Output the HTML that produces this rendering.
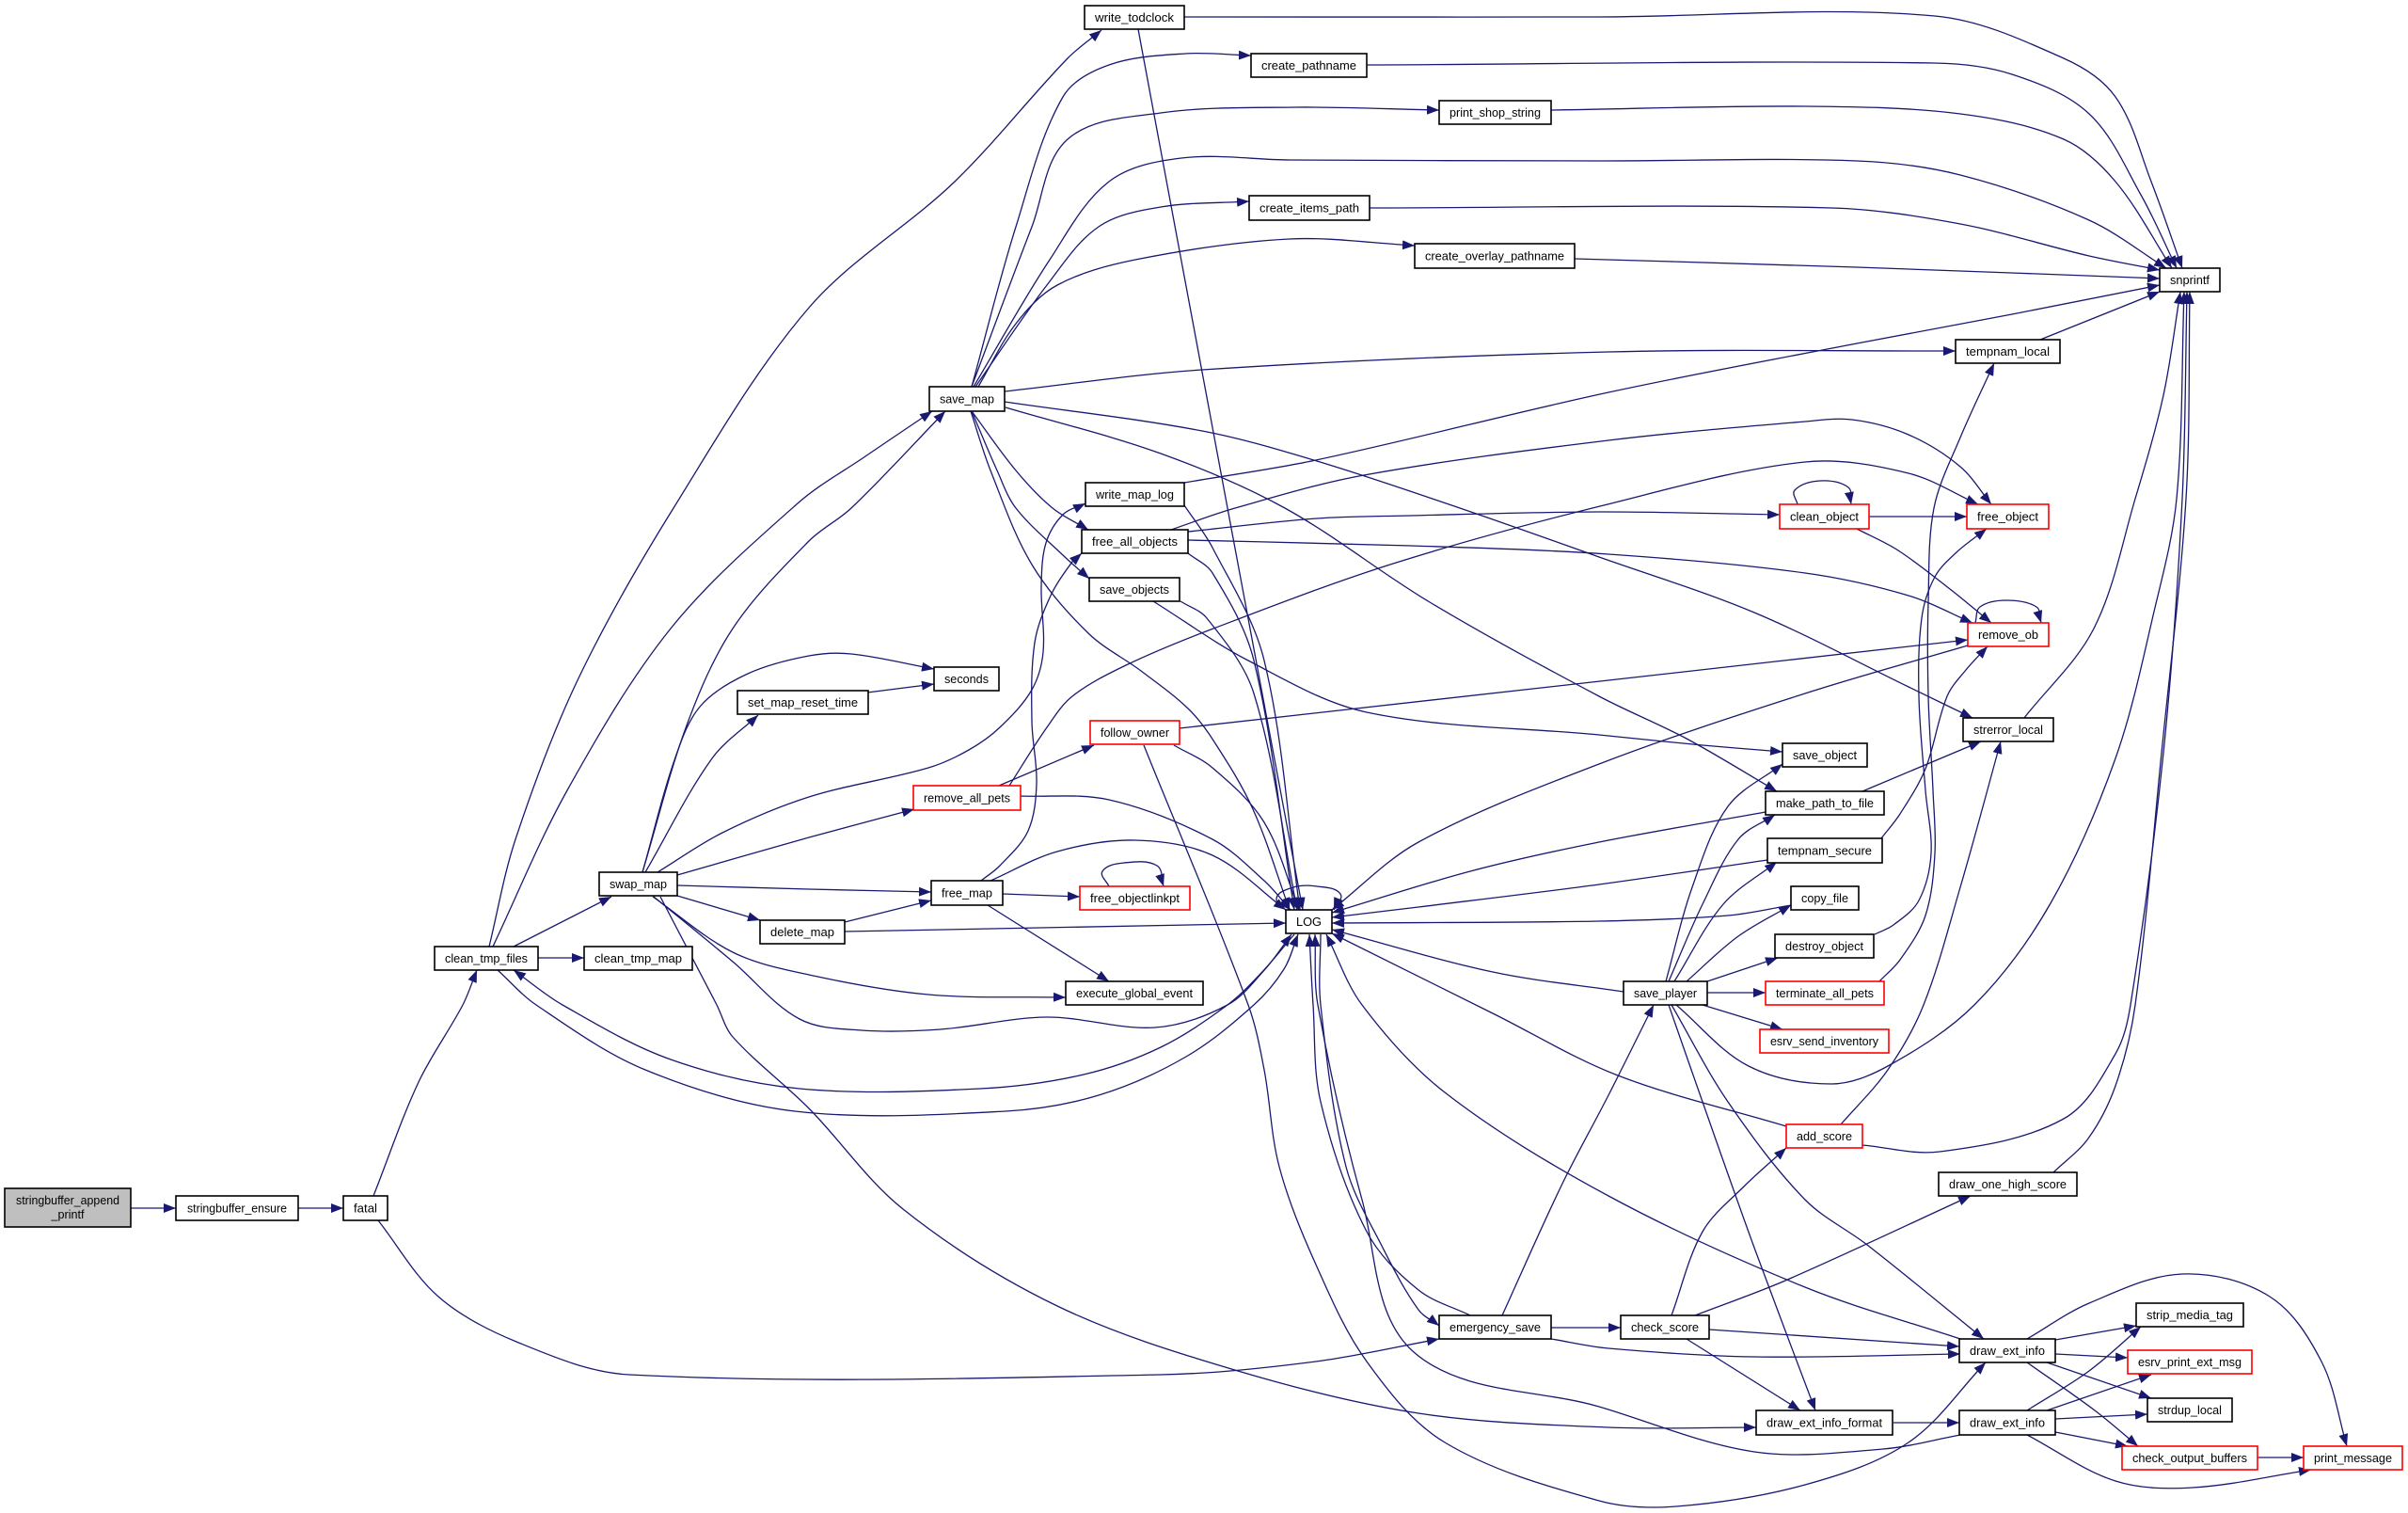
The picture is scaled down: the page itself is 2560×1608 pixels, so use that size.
<!DOCTYPE html>
<html>
<head>
<meta charset="utf-8">
<style>
html,body{margin:0;padding:0;background:#fff;}
svg{display:block;}
.e{fill:none;stroke:#191970;stroke-width:1.3;stroke-linejoin:round;marker-end:url(#a);}
.n{fill:#fff;stroke:#000;stroke-width:1.6;}
.r{fill:#fff;stroke:#ff0000;stroke-width:1.6;}
.g{fill:#bfbfbf;stroke:#000;stroke-width:1.6;}
text{font-family:"Liberation Sans",Arial,Helvetica,sans-serif;font-size:13px;fill:#000;text-anchor:middle;}
</style>
</head>
<body>
<svg xmlns="http://www.w3.org/2000/svg" width="2560" height="1608" viewBox="0 0 2560 1608">
<defs>
<marker id="a" markerUnits="userSpaceOnUse" markerWidth="13" markerHeight="10" refX="13" refY="5" orient="auto" viewBox="0 0 13 10">
<path d="M0,0 L13,5 L0,10 z" fill="#191970"/>
</marker>
</defs>
<rect x="0" y="0" width="2560" height="1608" fill="#fff"/>
<g id="edges">
<polyline class="e" points="139,1284 187,1284"/>
<polyline class="e" points="317,1284 365,1284"/>
<polyline class="e" points="397,1271 445,1150 492,1068 507,1031"/>
<polyline class="e" points="402,1297 466,1378 549,1426 669,1461 1234,1461 1399,1447 1530,1423"/>
<polyline class="e" points="572,1018 621,1018"/>
<polyline class="e" points="546,1006 650,953"/>
<polyline class="e" points="520,1006 548,892 614,723 716,540 860,327 1015,193 1135,62 1171,32"/>
<polyline class="e" points="524,1006 603,840 713,668 848,535 920,485 991,437"/>
<polyline class="e" points="529,1031 570,1068 686,1137 845,1181 1069,1181 1168,1164 1261,1123 1333,1068 1365,1030 1380,993"/>
<polyline class="e" points="1376,993 1340,1035 1305,1068 1234,1113 1152,1142 1042,1157 850,1157 713,1126 598,1068 546,1031"/>
<polyline class="e" points="683,927 730,771 779,668 860,575 905,540 1005,437"/>
<polyline class="e" points="683,927 718,805 745,750 795,716 860,697 905,695 993,711"/>
<polyline class="e" points="686,927 757,806 806,760"/>
<polyline class="e" points="699,927 768,885 860,847 987,816 1030,797 1063,773 1097,733 1109,693 1107,623 1112,577 1130,547 1154,535"/>
<polyline class="e" points="720,930 860,890 972,860"/>
<polyline class="e" points="720,941 860,945 990,948"/>
<polyline class="e" points="720,952 808,978"/>
<polyline class="e" points="694,953 779,1012 860,1036 987,1057 1133,1060"/>
<polyline class="e" points="695,953 779,1022 850,1083 916,1095 1000,1094 1113,1081 1228,1092 1305,1068 1345,1030 1373,993"/>
<polyline class="e" points="702,953 762,1068 779,1102 860,1178 960,1285 1124,1388 1316,1457 1508,1502 1710,1517 1867,1517"/>
<polyline class="e" points="1033,411 1080,241 1130,103 1179,69 1260,57 1330,59"/>
<polyline class="e" points="1033,411 1097,241 1135,148 1234,120 1377,114 1530,117"/>
<polyline class="e" points="1035,411 1116,276 1179,193 1256,168 1371,170 1700,171 1974,171 2084,186 2221,234 2303,285"/>
<polyline class="e" points="1037,411 1113,303 1168,241 1234,220 1328,214"/>
<polyline class="e" points="1040,411 1080,344 1124,303 1207,276 1371,254 1504,261"/>
<polyline class="e" points="1068,416 1278,393 1710,374 2079,373"/>
<polyline class="e" points="1068,427 1278,458 1400,490 1552,540 1700,592 1865,651 2029,730 2097,763"/>
<polyline class="e" points="1069,433 1234,482 1366,540 1520,640 1700,740 1793,785 1889,841"/>
<polyline class="e" points="1033,437 1080,500 1119,540 1157,563"/>
<polyline class="e" points="1033,437 1060,500 1080,540 1130,590 1158,615"/>
<polyline class="e" points="1032,437 1053,500 1097,600 1157,673 1213,713 1263,753 1290,787 1332,860 1371,967"/>
<polyline class="e" points="1259,18 1700,18 2057,17 2194,62 2249,103 2287,193 2320,285"/>
<polyline class="e" points="1210,31 1305,540 1385,967"/>
<polyline class="e" points="1453,69 2056,67 2139,79 2221,121 2276,207 2314,285"/>
<polyline class="e" points="1649,117 1919,113 2084,121 2194,148 2249,193 2309,285"/>
<polyline class="e" points="1456,221 1947,221 2084,238 2221,272 2296,287"/>
<polyline class="e" points="1674,275 1974,284 2296,296"/>
<polyline class="e" points="2169,361 2296,310"/>
<polyline class="e" points="1259,513 1399,489 1710,417 1974,365 2139,334 2296,303"/>
<polyline class="e" points="1259,537 1289,582 1344,702 1382,967"/>
<polyline class="e" points="1245,563 1313,540 1450,505 1710,468 1919,448 1969,446 2029,462 2084,496 2117,536"/>
<polyline class="e" points="1263,565 1400,551 1500,548 1700,544 1892,547"/>
<polyline class="e" points="1263,574 1500,580 1710,589 1919,609 2029,633 2097,662"/>
<polyline class="e" points="1263,588 1289,609 1333,702 1376,967"/>
<polyline class="e" points="1226,639 1327,702 1453,757 1700,781 1810,792 1895,799"/>
<polyline class="e" points="1255,639 1283,657 1333,737 1379,967"/>
<polyline class="e" points="1911,536 1908,521 1935,511 1965,518 1968,536"/>
<polyline class="e" points="1987,549 2091,549"/>
<polyline class="e" points="1974,562 2018,585 2073,626 2117,662"/>
<polyline class="e" points="2100,662 2105,645 2133,638 2165,645 2170,662"/>
<polyline class="e" points="2092,686 1919,737 1700,812 1508,895 1416,967"/>
<polyline class="e" points="1254,774 1710,723 2092,680"/>
<polyline class="e" points="1248,792 1289,816 1344,874 1381,967"/>
<polyline class="e" points="1216,792 1327,1068 1344,1137 1360,1240 1399,1344 1453,1447 1536,1533 1700,1595 1782,1601 1919,1578 2029,1533 2111,1448"/>
<polyline class="e" points="1062,835 1163,792"/>
<polyline class="e" points="1073,835 1113,773 1140,740 1197,707 1290,668 1481,599 1705,537 1919,491 2029,503 2103,536"/>
<polyline class="e" points="1085,846 1179,850 1289,892 1344,936 1372,967"/>
<polyline class="e" points="922,736 993,727"/>
<polyline class="e" points="1066,950 1148,953"/>
<polyline class="e" points="1050,962 1179,1043"/>
<polyline class="e" points="1053,936 1124,905 1207,893 1289,909 1367,967"/>
<polyline class="e" points="1043,936 1063,920 1093,883 1102,833 1097,767 1100,683 1117,633 1140,597 1150,588"/>
<polyline class="e" points="1179,942 1172,926 1195,917 1230,920 1237,942"/>
<polyline class="e" points="898,980 990,957"/>
<polyline class="e" points="898,990 1367,981"/>
<polyline class="e" points="1372,967 1357,955 1375,943 1400,942 1425,950 1418,967"/>
<polyline class="e" points="1404,993 1404,1068 1431,1240 1470,1326 1508,1392 1530,1409"/>
<polyline class="e" points="1563,1398 1508,1371 1453,1309 1404,1171 1396,1068 1392,993"/>
<polyline class="e" points="2084,1525 2002,1540 1865,1543 1700,1495 1503,1437 1448,1275 1401,1068 1398,993"/>
<polyline class="e" points="2084,1423 1919,1368 1710,1271 1536,1161 1448,1068 1410,993"/>
<polyline class="e" points="1899,1197 1720,1143 1587,1077 1416,992"/>
<polyline class="e" points="1726,1054 1587,1033 1416,988"/>
<polyline class="e" points="1904,962 1837,973 1700,979 1416,981"/>
<polyline class="e" points="1879,914 1700,940 1508,964 1416,975"/>
<polyline class="e" points="1877,863 1700,895 1563,926 1416,970"/>
<polyline class="e" points="1771,1043 1799,943 1837,857 1895,812"/>
<polyline class="e" points="1774,1043 1810,961 1848,892 1887,866"/>
<polyline class="e" points="1780,1043 1832,961 1889,916"/>
<polyline class="e" points="1793,1043 1848,995 1904,962"/>
<polyline class="e" points="1815,1043 1890,1018"/>
<polyline class="e" points="1815,1055 1877,1055"/>
<polyline class="e" points="1810,1068 1895,1094"/>
<polyline class="e" points="1782,1068 1859,1133 1947,1152 2007,1133 2099,1068 2180,960 2249,806 2290,650 2314,530 2322,310"/>
<polyline class="e" points="1777,1068 1837,1171 1919,1275 1985,1323 2109,1423"/>
<polyline class="e" points="1774,1068 1810,1171 1865,1326 1930,1499"/>
<polyline class="e" points="1980,841 2106,788"/>
<polyline class="e" points="2000,891 2020,865 2047,817 2070,740 2090,712 2113,687"/>
<polyline class="e" points="1993,993 2013,983 2040,957 2053,907 2047,840 2040,740 2043,657 2057,613 2080,587 2112,562"/>
<polyline class="e" points="1998,1043 2020,1020 2047,973 2057,907 2055,840 2050,740 2050,640 2056,540 2084,465 2120,386"/>
<polyline class="e" points="2152,763 2226,668 2270,530 2300,420 2318,310"/>
<polyline class="e" points="1957,1195 2007,1137 2045,1068 2084,943 2127,788"/>
<polyline class="e" points="1980,1217 2062,1224 2194,1189 2249,1120 2265,1068 2300,800 2320,530 2325,310"/>
<polyline class="e" points="2183,1246 2220,1210 2249,1154 2270,1068 2298,800 2324,530 2328,310"/>
<polyline class="e" points="1649,1411 1723,1411"/>
<polyline class="e" points="1597,1398 1660,1260 1710,1164 1758,1068"/>
<polyline class="e" points="1649,1423 1710,1433 1865,1442 2084,1439"/>
<polyline class="e" points="1777,1398 1810,1309 1854,1261 1899,1220"/>
<polyline class="e" points="1802,1398 1898,1361 2095,1271"/>
<polyline class="e" points="1817,1413 2083,1431"/>
<polyline class="e" points="1793,1423 1914,1499"/>
<polyline class="e" points="2155,1423 2221,1385 2320,1354 2413,1378 2468,1447 2495,1537"/>
<polyline class="e" points="2185,1424 2271,1409"/>
<polyline class="e" points="2185,1439 2262,1443"/>
<polyline class="e" points="2176,1448 2287,1486"/>
<polyline class="e" points="2155,1448 2227,1499 2273,1537"/>
<polyline class="e" points="2155,1499 2221,1457 2276,1410"/>
<polyline class="e" points="2176,1499 2287,1461"/>
<polyline class="e" points="2185,1508 2283,1503"/>
<polyline class="e" points="2185,1522 2262,1537"/>
<polyline class="e" points="2155,1525 2249,1574 2331,1581 2457,1562"/>
<polyline class="e" points="2013,1512 2083,1512"/>
<polyline class="e" points="2400,1549 2449,1549"/>
</g>
<g id="nodes">
<rect class="g" x="5" y="1263" width="134" height="41"/>
<text x="72" y="1280" textLength="110" lengthAdjust="spacingAndGlyphs">stringbuffer_append</text>
<text x="72" y="1295" textLength="35" lengthAdjust="spacingAndGlyphs">_printf</text>

<rect class="n" x="187" y="1271" width="130" height="26"/>
<text x="252" y="1288.5" textLength="106" lengthAdjust="spacingAndGlyphs">stringbuffer_ensure</text>

<rect class="n" x="365" y="1271" width="47" height="26"/>
<text x="388.5" y="1288.5" textLength="25" lengthAdjust="spacingAndGlyphs">fatal</text>

<rect class="n" x="462" y="1006" width="110" height="25"/>
<text x="517" y="1023" textLength="88" lengthAdjust="spacingAndGlyphs">clean_tmp_files</text>

<rect class="n" x="621" y="1006" width="115" height="25"/>
<text x="678.5" y="1023" textLength="93" lengthAdjust="spacingAndGlyphs">clean_tmp_map</text>

<rect class="n" x="637" y="927" width="83" height="25"/>
<text x="678.5" y="944" textLength="61" lengthAdjust="spacingAndGlyphs">swap_map</text>

<rect class="n" x="784" y="734" width="139" height="25"/>
<text x="853.5" y="751" textLength="117" lengthAdjust="spacingAndGlyphs">set_map_reset_time</text>

<rect class="n" x="993" y="709" width="69" height="25"/>
<text x="1027.5" y="726" textLength="47" lengthAdjust="spacingAndGlyphs">seconds</text>

<rect class="n" x="988" y="411" width="80" height="26"/>
<text x="1028" y="428.5" textLength="58" lengthAdjust="spacingAndGlyphs">save_map</text>

<rect class="n" x="1153" y="6" width="106" height="25"/>
<text x="1206" y="23" textLength="84" lengthAdjust="spacingAndGlyphs">write_todclock</text>

<rect class="n" x="1330" y="57" width="123" height="25"/>
<text x="1391.5" y="74" textLength="101" lengthAdjust="spacingAndGlyphs">create_pathname</text>

<rect class="n" x="1530" y="107" width="119" height="25"/>
<text x="1589.5" y="124" textLength="97" lengthAdjust="spacingAndGlyphs">print_shop_string</text>

<rect class="n" x="1328" y="208" width="128" height="26"/>
<text x="1392" y="225.5" textLength="106" lengthAdjust="spacingAndGlyphs">create_items_path</text>

<rect class="n" x="1504" y="259" width="170" height="26"/>
<text x="1589" y="276.5" textLength="148" lengthAdjust="spacingAndGlyphs">create_overlay_pathname</text>

<rect class="n" x="2296" y="285" width="64" height="25"/>
<text x="2328" y="302" textLength="42" lengthAdjust="spacingAndGlyphs">snprintf</text>

<rect class="n" x="2079" y="361" width="111" height="25"/>
<text x="2134.5" y="378" textLength="89" lengthAdjust="spacingAndGlyphs">tempnam_local</text>

<rect class="n" x="1154" y="513" width="105" height="25"/>
<text x="1206.5" y="530" textLength="83" lengthAdjust="spacingAndGlyphs">write_map_log</text>

<rect class="n" x="1150" y="563" width="113" height="25"/>
<text x="1206.5" y="580" textLength="91" lengthAdjust="spacingAndGlyphs">free_all_objects</text>

<rect class="n" x="1158" y="614" width="96" height="25"/>
<text x="1206" y="631" textLength="74" lengthAdjust="spacingAndGlyphs">save_objects</text>

<rect class="r" x="1159" y="766" width="95" height="25"/>
<text x="1206.5" y="783" textLength="73" lengthAdjust="spacingAndGlyphs">follow_owner</text>

<rect class="r" x="971" y="835" width="114" height="26"/>
<text x="1028" y="852.5" textLength="92" lengthAdjust="spacingAndGlyphs">remove_all_pets</text>

<rect class="n" x="990" y="936" width="76" height="26"/>
<text x="1028" y="953.5" textLength="54" lengthAdjust="spacingAndGlyphs">free_map</text>

<rect class="r" x="1148" y="942" width="117" height="25"/>
<text x="1206.5" y="959" textLength="95" lengthAdjust="spacingAndGlyphs">free_objectlinkpt</text>

<rect class="n" x="808" y="978" width="90" height="25"/>
<text x="853" y="995" textLength="68" lengthAdjust="spacingAndGlyphs">delete_map</text>

<rect class="n" x="1367" y="967" width="49" height="25"/>
<text x="1391.5" y="984" textLength="27" lengthAdjust="spacingAndGlyphs">LOG</text>

<rect class="n" x="1133" y="1043" width="146" height="25"/>
<text x="1206" y="1060" textLength="124" lengthAdjust="spacingAndGlyphs">execute_global_event</text>

<rect class="r" x="1892" y="536" width="95" height="26"/>
<text x="1939.5" y="553.5" textLength="73" lengthAdjust="spacingAndGlyphs">clean_object</text>

<rect class="r" x="2091" y="536" width="87" height="26"/>
<text x="2134.5" y="553.5" textLength="65" lengthAdjust="spacingAndGlyphs">free_object</text>

<rect class="r" x="2092" y="662" width="86" height="25"/>
<text x="2135" y="679" textLength="64" lengthAdjust="spacingAndGlyphs">remove_ob</text>

<rect class="n" x="2087" y="763" width="96" height="25"/>
<text x="2135" y="780" textLength="74" lengthAdjust="spacingAndGlyphs">strerror_local</text>

<rect class="n" x="1895" y="790" width="90" height="25"/>
<text x="1940" y="807" textLength="68" lengthAdjust="spacingAndGlyphs">save_object</text>

<rect class="n" x="1877" y="841" width="126" height="25"/>
<text x="1940" y="858" textLength="104" lengthAdjust="spacingAndGlyphs">make_path_to_file</text>

<rect class="n" x="1879" y="891" width="122" height="26"/>
<text x="1940" y="908.5" textLength="100" lengthAdjust="spacingAndGlyphs">tempnam_secure</text>

<rect class="n" x="1904" y="942" width="72" height="25"/>
<text x="1940" y="959" textLength="50" lengthAdjust="spacingAndGlyphs">copy_file</text>

<rect class="n" x="1887" y="993" width="105" height="25"/>
<text x="1939.5" y="1010" textLength="83" lengthAdjust="spacingAndGlyphs">destroy_object</text>

<rect class="n" x="1726" y="1043" width="89" height="25"/>
<text x="1770.5" y="1060" textLength="67" lengthAdjust="spacingAndGlyphs">save_player</text>

<rect class="r" x="1877" y="1043" width="126" height="25"/>
<text x="1940" y="1060" textLength="104" lengthAdjust="spacingAndGlyphs">terminate_all_pets</text>

<rect class="r" x="1871" y="1094" width="137" height="25"/>
<text x="1939.5" y="1111" textLength="115" lengthAdjust="spacingAndGlyphs">esrv_send_inventory</text>

<rect class="r" x="1899" y="1195" width="81" height="25"/>
<text x="1939.5" y="1212" textLength="59" lengthAdjust="spacingAndGlyphs">add_score</text>

<rect class="n" x="2061" y="1246" width="147" height="25"/>
<text x="2134.5" y="1263" textLength="125" lengthAdjust="spacingAndGlyphs">draw_one_high_score</text>

<rect class="n" x="1530" y="1398" width="119" height="25"/>
<text x="1589.5" y="1415" textLength="97" lengthAdjust="spacingAndGlyphs">emergency_save</text>

<rect class="n" x="1723" y="1398" width="94" height="25"/>
<text x="1770" y="1415" textLength="72" lengthAdjust="spacingAndGlyphs">check_score</text>

<rect class="n" x="2083" y="1423" width="102" height="25"/>
<text x="2134" y="1440" textLength="80" lengthAdjust="spacingAndGlyphs">draw_ext_info</text>

<rect class="n" x="2271" y="1385" width="114" height="25"/>
<text x="2328" y="1402" textLength="92" lengthAdjust="spacingAndGlyphs">strip_media_tag</text>

<rect class="r" x="2262" y="1435" width="132" height="25"/>
<text x="2328" y="1452" textLength="110" lengthAdjust="spacingAndGlyphs">esrv_print_ext_msg</text>

<rect class="n" x="2283" y="1486" width="90" height="25"/>
<text x="2328" y="1503" textLength="68" lengthAdjust="spacingAndGlyphs">strdup_local</text>

<rect class="n" x="1867" y="1499" width="145" height="26"/>
<text x="1939.5" y="1516.5" textLength="123" lengthAdjust="spacingAndGlyphs">draw_ext_info_format</text>

<rect class="n" x="2083" y="1499" width="102" height="26"/>
<text x="2134" y="1516.5" textLength="80" lengthAdjust="spacingAndGlyphs">draw_ext_info</text>

<rect class="r" x="2256" y="1537" width="144" height="25"/>
<text x="2328" y="1554" textLength="122" lengthAdjust="spacingAndGlyphs">check_output_buffers</text>

<rect class="r" x="2449" y="1537" width="105" height="25"/>
<text x="2501.5" y="1554" textLength="83" lengthAdjust="spacingAndGlyphs">print_message</text>
</g>
</svg>
<script>
(function(){
  var pls = document.querySelectorAll('polyline.e');
  for (var k = 0; k < pls.length; k++) {
    var pl = pls[k];
    var raw = pl.getAttribute('points').trim().split(/\s+/);
    var pts = [];
    for (var j = 0; j < raw.length; j++) { var a = raw[j].split(','); pts.push([+a[0], +a[1]]); }
    if (pts.length < 3) continue;
    var n = pts.length, tan = [];
    for (var i = 0; i < n; i++) {
      var p0 = pts[Math.max(0, i - 1)], p1 = pts[Math.min(n - 1, i + 1)];
      var dx = p1[0] - p0[0], dy = p1[1] - p0[1], l = Math.sqrt(dx * dx + dy * dy) || 1;
      tan.push([dx / l, dy / l]);
    }
    var d = 'M' + pts[0][0] + ',' + pts[0][1];
    for (var i = 0; i < n - 1; i++) {
      var p = pts[i], q = pts[i + 1];
      var L = Math.sqrt((q[0] - p[0]) * (q[0] - p[0]) + (q[1] - p[1]) * (q[1] - p[1])) / 3;
      d += ' C' + (p[0] + tan[i][0] * L).toFixed(1) + ',' + (p[1] + tan[i][1] * L).toFixed(1) + ' ' +
           (q[0] - tan[i + 1][0] * L).toFixed(1) + ',' + (q[1] - tan[i + 1][1] * L).toFixed(1) + ' ' +
           q[0] + ',' + q[1];
    }
    var path = document.createElementNS('http://www.w3.org/2000/svg', 'path');
    path.setAttribute('d', d);
    path.setAttribute('class', 'e');
    pl.parentNode.replaceChild(path, pl);
  }
})();
</script>
</body>
</html>
